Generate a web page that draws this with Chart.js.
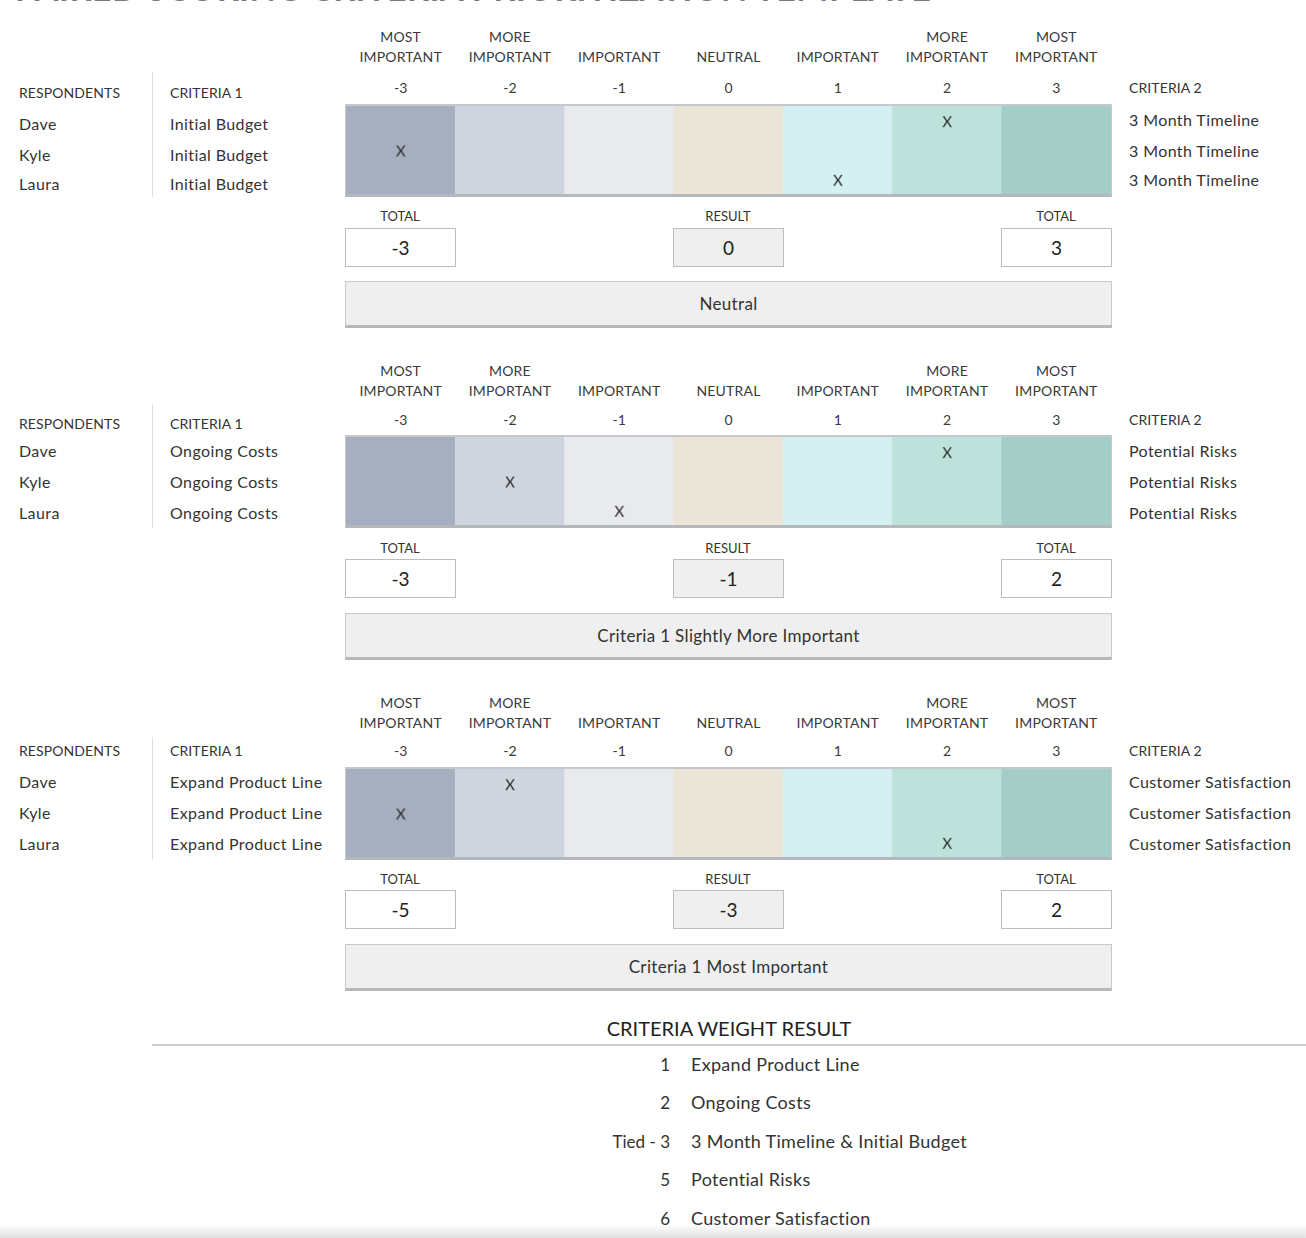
<!DOCTYPE html>
<html>
<head>
<meta charset="utf-8">
<script src="https://cdn.jsdelivr.net/npm/chart.js@4.4.1/dist/chart.umd.min.js"></script>
<style>
  html, body { margin:0; padding:0; background:#fff; }
  body { width:1306px; height:1238px; position:relative; overflow:hidden; font-family:Lato, "Open Sans", sans-serif; color:#333; }
  .t { position:absolute; white-space:nowrap; line-height:1; transform:translateY(-50%); }
  .c { transform:translate(-50%,-50%); text-align:center; }
  .r { transform:translate(-100%,-50%); text-align:right; }
  .band { position:absolute; box-sizing:border-box; border-top:2px solid #c6c9cc; border-bottom:3px solid #b5b8ba; border-left:1px solid #c9c9c9; border-right:1px solid #c9c9c9; }
  .band canvas { display:block; }
  .box { position:absolute; box-sizing:border-box; border:1px solid #bdbdbd; display:flex; align-items:center; justify-content:center; font-size:19px; color:#222; }
  .bar { position:absolute; box-sizing:border-box; background:#efefef; border:1px solid #c8c8c8; border-bottom:3px solid #b8b8b8; display:flex; align-items:center; justify-content:center; font-size:17px; letter-spacing:0.35px; color:#333; }
  .vsep { position:absolute; width:1px; background:#dedede; }
</style>
</head>
<body>
<script>
// ---------- DATA ----------
const respondents = ['Dave', 'Kyle', 'Laura'];
const scoreLabels = ['-3', '-2', '-1', '0', '1', '2', '3'];
const headerTop = ['MOST', 'MORE', '', '', '', 'MORE', 'MOST'];
const headerBottom = ['IMPORTANT', 'IMPORTANT', 'IMPORTANT', 'NEUTRAL', 'IMPORTANT', 'IMPORTANT', 'IMPORTANT'];
const columnColors = ['#a6afbf', '#cfd5de', '#e8eaee', '#ebe5d8', '#d5f0f3', '#bde2dc', '#a5cdc7'];
const criteria1 = ['Initial Budget', 'Ongoing Costs', 'Expand Product Line'];
const criteria2 = ['3 Month Timeline', 'Potential Risks', 'Customer Satisfaction'];
const scoresPair1 = [2, -3, 1];   // Dave, Kyle, Laura
const scoresPair2 = [2, -2, -1];
const scoresPair3 = [-2, -3, 2];
const verdicts = ['Neutral', 'Criteria 1 Slightly More Important', 'Criteria 1 Most Important'];
const rankLabels = ['1', '2', 'Tied - 3', '5', '6'];
const rankNames = ['Expand Product Line', 'Ongoing Costs', '3 Month Timeline & Initial Budget', 'Potential Risks', 'Customer Satisfaction'];
const titleText = 'PAIRED SCORING CRITERIA PRIORITIZATION TEMPLATE';

// ---------- LAYOUT ----------
const pairScores = [scoresPair1, scoresPair2, scoresPair3];
const L = {
  head1: [37, 371, 703],
  nums: [88, 420, 751],
  lbl: [93, 424, 751],
  band: [104, 435, 767],
  rows: [[124, 155, 184], [451, 482, 513], [782, 813, 844]],
  c2off: [-4, 0, 0],
  totalLbl: [216, 548, 879],
  boxes: [228, 559, 890],
  bar: [281, 613, 944],
  sepTop: [72, 404, 737]
};
const bandLeft = 345, bandWidth = 767, bandHeight = 93;

function txt(s, x, y, size, cls, extra) {
  const d = document.createElement('div');
  d.className = 't ' + (cls || '');
  d.textContent = s;
  d.style.left = x + 'px';
  d.style.top = y + 'px';
  d.style.fontSize = size + 'px';
  if (extra) Object.assign(d.style, extra);
  document.body.appendChild(d);
  return d;
}

// title (cut off at top as in the reference)
const title = txt(titleText, 15, 0, 34, '', {color:'#7a7a7a', fontWeight:'bold', transform:'none', letterSpacing:'0.5px'});
title.style.top = '-29px';

// X marker image used as point style
function makeMark() {
  const c = document.createElement('canvas');
  c.width = 16; c.height = 18;
  const g = c.getContext('2d');
  g.fillStyle = '#2a2a2a';
  g.font = '15px Lato, sans-serif';
  g.textAlign = 'center';
  g.textBaseline = 'middle';
  g.fillText('X', 8, 9.5);
  return c;
}
const markImg = makeMark();

pairScores.forEach((scores, k) => {
  // band chart
  const wrap = document.createElement('div');
  wrap.className = 'band';
  wrap.style.left = bandLeft + 'px';
  wrap.style.top = L.band[k] + 'px';
  wrap.style.width = bandWidth + 'px';
  wrap.style.height = bandHeight + 'px';
  const cv = document.createElement('canvas');
  wrap.appendChild(cv);
  document.body.appendChild(wrap);
  const nRows = respondents.length;
  const marks = scores.map((s, i) => ({x: String(s), y: nRows - i - 0.55}));
  const chart = new Chart(cv, {
    type: 'bar',
    data: {
      labels: scoreLabels,
      datasets: [
        {
          type: 'line',
          data: marks,
          showLine: false,
          pointStyle: markImg,
          pointRadius: 8,
          clip: false,
          order: 0
        },
        {
          type: 'bar',
          data: scoreLabels.map(() => nRows),
          backgroundColor: columnColors,
          borderWidth: 0,
          barPercentage: 1,
          categoryPercentage: 1,
          order: 1
        }
      ]
    },
    options: {
      responsive: true,
      maintainAspectRatio: false,
      animation: false,
      events: [],
      layout: {padding: 0, autoPadding: false},
      plugins: {legend: {display: false}, tooltip: {enabled: false}},
      scales: {
        x: {display: false, type: 'category', grid: {display: false}},
        y: {display: false, min: 0, max: nRows, grace: 0}
      }
    }
  });

  // column headers positioned via chart scale
  const xs = chart.scales.x;
  const innerLeft = bandLeft + 1;
  scoreLabels.forEach((lab, i) => {
    const cx = innerLeft + xs.getPixelForValue(i);
    if (headerTop[i]) txt(headerTop[i], cx, L.head1[k], 14, 'c', {color:'#3a3a3a', letterSpacing:'0.2px'});
    txt(headerBottom[i], cx, L.head1[k] + 20, 14, 'c', {color:'#3a3a3a', letterSpacing:'0.2px'});
    txt(lab, cx, L.nums[k], 14, 'c', {color:'#3a3a3a'});
  });

  // left / right labels
  txt('RESPONDENTS', 19, L.lbl[k], 14, '', {letterSpacing:'0.1px'});
  txt('CRITERIA 1', 170, L.lbl[k], 14, '', {letterSpacing:'0.1px'});
  txt('CRITERIA 2', 1129, L.nums[k], 14, '', {letterSpacing:'0.1px'});
  respondents.forEach((r, i) => {
    txt(r, 19, L.rows[k][i], 16, '', {letterSpacing:'0.4px'});
    txt(criteria1[k], 170, L.rows[k][i], 16, '', {letterSpacing:'0.4px'});
    txt(criteria2[k], 1129, L.rows[k][i] + L.c2off[k], 16, '', {letterSpacing:'0.4px'});
  });
  const sep = document.createElement('div');
  sep.className = 'vsep';
  sep.style.left = '152px';
  sep.style.top = L.sepTop[k] + 'px';
  sep.style.height = (L.band[k] + bandHeight - L.sepTop[k]) + 'px';
  document.body.appendChild(sep);

  // totals
  const neg = scores.filter(v => v < 0).reduce((a, b) => a + b, 0);
  const pos = scores.filter(v => v > 0).reduce((a, b) => a + b, 0);
  const res = neg + pos;
  const boxes = [[345, 'TOTAL', neg, '#fff'], [673, 'RESULT', res, '#efefef'], [1001, 'TOTAL', pos, '#fff']];
  boxes.forEach(([x, lbl, v, bg]) => {
    txt(lbl, x + 55, L.totalLbl[k], 13, 'c', {color:'#333'});
    const b = document.createElement('div');
    b.className = 'box';
    b.style.left = x + 'px';
    b.style.top = L.boxes[k] + 'px';
    b.style.width = '111px';
    b.style.height = '39px';
    b.style.background = bg;
    b.textContent = String(v);
    document.body.appendChild(b);
  });
  const bar = document.createElement('div');
  bar.className = 'bar';
  bar.style.left = '345px';
  bar.style.top = L.bar[k] + 'px';
  bar.style.width = '767px';
  bar.style.height = '47px';
  bar.textContent = verdicts[k];
  document.body.appendChild(bar);
});

// criteria weight result
txt('CRITERIA WEIGHT RESULT', 729, 1028, 20, 'c', {color:'#222'});
const hl = document.createElement('div');
Object.assign(hl.style, {position:'absolute', left:'152px', top:'1044px', width:'1154px', height:'2px', background:'#cfcfcf'});
document.body.appendChild(hl);
const rankY = [1064, 1102, 1141, 1179, 1218];
rankLabels.forEach((r, i) => {
  txt(r, 670, rankY[i], 17, 'r', {color:'#333'});
  txt(rankNames[i], 691, rankY[i], 18, '', {color:'#333', letterSpacing:'0.3px'});
});
const shade = document.createElement('div');
Object.assign(shade.style, {position:'absolute', left:'0', top:'1224px', width:'1306px', height:'14px', background:'linear-gradient(to bottom, rgba(235,235,235,0), rgba(225,225,225,1))'});
document.body.appendChild(shade);
</script>
</body>
</html>
